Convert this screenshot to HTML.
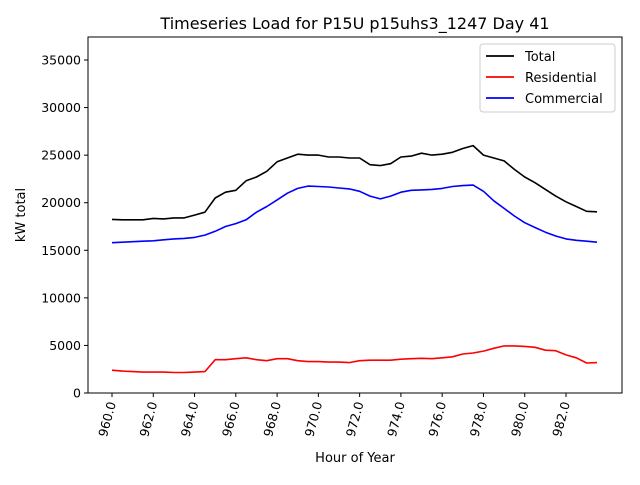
<!DOCTYPE html>
<html><head><meta charset="utf-8"><style>
body{margin:0;background:#fff;font-family:"Liberation Sans","DejaVu Sans",sans-serif}
svg text{font-family:"DejaVu Sans","Liberation Sans",sans-serif}
</style></head><body>
<svg id="c" width="640" height="480" xmlns="http://www.w3.org/2000/svg"></svg>
<script>
const totalVals=[18250,18200,18200,18200,18350,18300,18400,18400,18700,19000,20500,21100,21300,22300,22700,23300,24300,24700,25100,25000,25000,24800,24800,24700,24700,24000,23900,24100,24800,24900,25200,25000,25100,25300,25700,26000,25000,24700,24400,23500,22700,22100,21400,20700,20100,19600,19100,19050];
const comVals=[15800,15850,15900,15950,16000,16100,16200,16250,16350,16600,17000,17500,17800,18200,19000,19600,20300,21000,21500,21750,21700,21650,21550,21450,21200,20700,20400,20700,21100,21300,21350,21400,21500,21700,21800,21850,21200,20200,19400,18600,17900,17400,16900,16500,16200,16050,15950,15850];
const resVals=[2400,2300,2250,2200,2200,2200,2150,2150,2200,2250,3500,3500,3600,3700,3500,3400,3600,3600,3400,3300,3300,3250,3250,3200,3400,3450,3450,3450,3550,3600,3650,3600,3700,3800,4100,4200,4400,4700,4950,4950,4900,4800,4500,4450,4000,3700,3150,3200];
const hourStart=960, hourStep=0.5;
const xTicks=[960,962,964,966,968,970,972,974,976,978,980,982];
const yTicks=[0,5000,10000,15000,20000,25000,30000,35000];
const series=[{name:'Total',color:'#000',vals:totalVals},{name:'Residential',color:'#f00',vals:resVals},{name:'Commercial',color:'#00f',vals:comVals}];
const L=88,R=622,T=37,B=393;
const xs=h=>112+(h-960)*(566-112)/22;
const ys=v=>B-v*(B-60)/35000;
const svg=document.getElementById('c');const NS='http://www.w3.org/2000/svg';
function mk(t,a,txt){const e=document.createElementNS(NS,t);for(const k in a)e.setAttribute(k,a[k]);if(txt!==undefined)e.textContent=txt;svg.appendChild(e);return e;}
let e=mk('text',{x:355,y:29,'text-anchor':'middle','font-size':16},'Timeseries Load for P15U p15uhs3_1247  Day 41');


series.forEach(s=>{
 const pts=s.vals.map((v,i)=>xs(hourStart+i*hourStep).toFixed(1)+','+ys(v).toFixed(1)).join(' ');
 const p=mk('polyline',{points:pts,fill:'none',stroke:s.color,'stroke-width':1.6,'stroke-linejoin':'round'});
 
 
});
e=mk('rect',{x:L,y:T,width:R-L,height:B-T,fill:'none',stroke:'#000','stroke-width':1});


xTicks.forEach(t=>{const x=xs(t);mk('line',{x1:x,x2:x,y1:B,y2:B+4,stroke:'#000'});
 const tx=mk('text',{x:0,y:0,'font-size':12.5,'text-anchor':'end',transform:`translate(${x+4},${B+10}) rotate(-75)`},t.toFixed(1));
 
 });
yTicks.forEach(t=>{const y=ys(t);mk('line',{x1:L-4,x2:L,y1:y,y2:y,stroke:'#000'});
 const tx=mk('text',{x:L-7,y:y+4.5,'font-size':12.5,'text-anchor':'end'},String(t));
 
 });
e=mk('text',{x:355,y:462,'text-anchor':'middle','font-size':13},'Hour of Year');


e=mk('text',{x:0,y:0,'text-anchor':'middle','font-size':13,transform:'translate(25,215) rotate(-90)'},'kW total');


e=mk('rect',{x:480,y:44,width:135,height:68,fill:'#fff',stroke:'#ccc',rx:3});


series.forEach((s,i)=>{const y=56+i*21;
 mk('line',{x1:486,x2:514,y1:y,y2:y,stroke:s.color,'stroke-width':1.8});
 const tx=mk('text',{x:525,y:y+5,'font-size':13},s.name);
 
 });
</script>
</body></html>
